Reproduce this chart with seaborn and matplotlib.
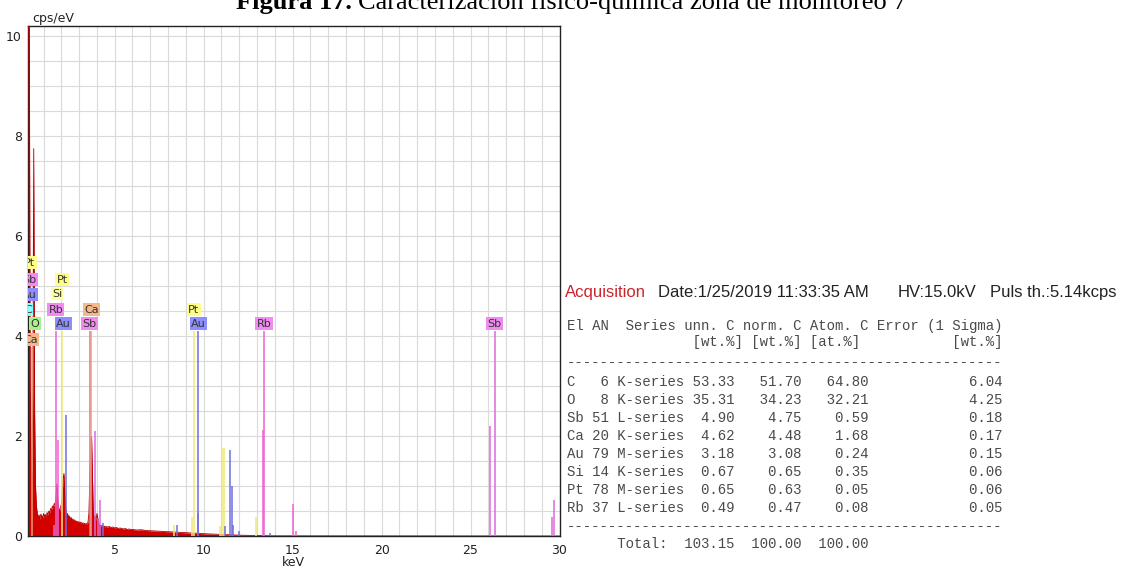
import numpy as np
import pandas as pd
import matplotlib
matplotlib.use("Agg")
import matplotlib.pyplot as plt
import seaborn as sns

# ---------------- data ----------------
# EDS spectrum (cps/eV)
energy_fine = np.round(np.arange(0.10, 4.5001, 0.05), 2)
counts_fine = [4.00, 10.50, 10.50, 3.00, 1.50, 1.20, 3.00, 7.74, 2.50, 1.00,
               0.60, 0.45,
               0.38, 0.42, 0.33, 0.44, 0.40, 0.36, 0.45, 0.39, 0.43, 0.37,
               0.47, 0.42, 0.50, 0.46, 0.55, 0.52, 0.60, 0.56, 0.65, 0.62,
               0.80, 1.05, 0.75, 0.55, 0.50, 0.58, 0.62, 0.85, 1.15, 1.25,
               0.80, 0.55, 0.42, 0.45, 0.38, 0.40, 0.35, 0.37, 0.33, 0.34,
               0.31, 0.32, 0.29, 0.30, 0.28, 0.29, 0.27, 0.28, 0.26, 0.27,
               0.25, 0.26, 0.25, 0.24, 0.25, 0.24, 0.28, 0.45, 1.10, 1.85,
               1.99, 1.20, 0.45, 0.35, 0.40, 0.30, 0.45, 0.35, 0.25, 0.22,
               0.21, 0.20, 0.21, 0.19, 0.20, 0.18, 0.19]
energy_mid = np.round(np.arange(4.6, 6.0001, 0.1), 2)
counts_mid = [0.18, 0.19, 0.17, 0.18, 0.16, 0.17, 0.15, 0.16, 0.15, 0.14,
              0.15, 0.13, 0.14, 0.13, 0.13]
energy_tail = np.round(np.arange(6.25, 14.0001, 0.25), 2)
counts_tail = [0.12, 0.125, 0.11, 0.105, 0.10, 0.095, 0.09, 0.085, 0.08, 0.075,
               0.07, 0.065, 0.06, 0.055, 0.05, 0.045, 0.042, 0.038, 0.032, 0.03,
               0.025, 0.022, 0.02, 0.016, 0.014, 0.012, 0.01, 0.008, 0.006, 0.005,
               0.004, 0.003]
energy_end = [30.0]
counts_end = [0.0]

# element marker lines (element, keV, height in cps/eV)
line_el = ["Ca", "Rb", "Pt", "Sb", "Ca", "Pt", "Au", "Rb", "Sb",
           "Rb", "Rb", "Au", "Sb", "Sb", "Sb", "Au",
           "Pt", "Au", "Pt", "Au", "Pt", "Pt", "Pt", "Au", "Au", "Au", "Au", "Au",
           "Pt", "Rb", "Au", "Rb", "Rb", "Sb", "Sb", "Sb"]
line_kev = [0.34, 1.69, 2.05, 3.60, 3.69, 9.44, 9.71, 13.39, 26.36,
            1.57, 1.80, 2.24, 3.88, 4.09, 4.15, 4.37,
            8.34, 8.51, 9.35, 9.69, 10.90, 11.05, 11.14, 11.20, 11.46, 11.60, 11.65, 11.96,
            12.97, 13.36, 13.75, 15.00, 15.19, 26.10, 29.60, 29.70]
line_top = [3.78, 4.10, 4.10, 4.10, 4.10, 4.10, 4.10, 4.10, 4.10,
            0.22, 1.92, 2.42, 2.09, 0.35, 0.72, 0.25,
            0.22, 0.22, 0.38, 0.46, 0.19, 1.75, 1.75, 0.20, 1.72, 1.00, 0.22, 0.10,
            0.37, 2.12, 0.06, 0.64, 0.10, 2.19, 0.38, 0.72]

# element labels (element, keV, height)
label_el = ["Pt", "Sb", "Au", "C", "O", "Ca",
            "Pt", "Si", "Rb", "Au", "Ca", "Sb", "Pt", "Au", "Rb", "Sb"]
label_kev = [0.22, 0.20, 0.19, 0.13, 0.52, 0.28,
             2.05, 1.76, 1.69, 2.12, 3.69, 3.60, 9.44, 9.71, 13.39, 26.36]
label_y = [5.46, 5.12, 4.82, 4.52, 4.24, 3.92,
           5.12, 4.84, 4.52, 4.24, 4.52, 4.24, 4.52, 4.24, 4.24, 4.24]

# quantification table
tab_el = ["C", "O", "Sb", "Ca", "Au", "Si", "Pt", "Rb"]
tab_an = [6, 8, 51, 20, 79, 14, 78, 37]
tab_series = ["K-series", "K-series", "L-series", "K-series", "M-series",
              "K-series", "M-series", "L-series"]
tab_unn = [53.33, 35.31, 4.90, 4.62, 3.18, 0.67, 0.65, 0.49]
tab_norm = [51.70, 34.23, 4.75, 4.48, 3.08, 0.65, 0.63, 0.47]
tab_atom = [64.80, 32.21, 0.59, 1.68, 0.24, 0.35, 0.05, 0.08]
tab_err = [6.04, 4.25, 0.18, 0.17, 0.15, 0.06, 0.06, 0.05]
tab_total = [103.15, 100.00, 100.00]

# ---------------- style ----------------
label_fill = {"Pt": "#ffff88", "Si": "#ffffa6", "Au": "#8d8dff", "Sb": "#f08cf0",
              "Rb": "#f08cf0", "Ca": "#f5b88a", "C": "#88ffff", "O": "#a8f08c"}
line_col = {"Pt": "#f0e878", "Si": "#eee070", "Au": "#6f6fe0", "Sb": "#dd6add",
            "Rb": "#f062d2", "Ca": "#eba07a", "C": "#60e0e0", "O": "#90d870"}

sns.set_theme(style="white")
plt.rcParams["font.family"] = ["DejaVu Sans"]

W, H = 1138, 567
fig = plt.figure(figsize=(W / 100, H / 100), dpi=100)
fig.patch.set_facecolor("white")

ax_l, ax_r, ax_t, ax_b = 27.5, 559.5, 25.5, 536
ax = fig.add_axes([ax_l / W, 1 - ax_b / H, (ax_r - ax_l) / W, (ax_b - ax_t) / H])

spec = pd.DataFrame({
    "keV": np.concatenate([energy_fine, energy_mid, energy_tail, energy_end]),
    "cps": np.concatenate([counts_fine, counts_mid, counts_tail, counts_end]),
})

ax.fill_between(spec["keV"], 0, spec["cps"], color="#d40000", lw=0, zorder=2)
sns.lineplot(data=spec, x="keV", y="cps", ax=ax, color="#b00000", linewidth=0.6,
             zorder=3, sort=True, estimator=None)

for el, kev, top in zip(line_el, line_kev, line_top):
    ax.vlines(kev, 0, top, color=line_col[el], lw=1.1, zorder=4)

for el, kev, yv in zip(label_el, label_kev, label_y):
    ax.text(kev, yv, el, ha="center", va="center", fontsize=8, color="#333333",
            bbox=dict(boxstyle="square,pad=0.12", fc=label_fill[el], ec="none"),
            clip_on=True, zorder=6)

ax.set_xlim(0.1, 30)
ax.set_ylim(0, 10.2)
ax.set_xticks([5, 10, 15, 20, 25, 30])
ax.set_xticks(np.arange(1, 30), minor=True)
ax.set_yticks([0, 2, 4, 6, 8, 10])
ax.set_yticks([1, 3, 5, 7, 9], minor=True)
ax.grid(False)
for xv in range(1, 30):
    ax.axvline(xv, color="#dadada", lw=0.8, zorder=0)
for yv in np.arange(0.5, 10.2, 0.5):
    ax.axhline(yv, color="#dadada", lw=0.8, zorder=0)
ax.set_xlabel("")
ax.set_ylabel("")
ax.tick_params(axis="both", which="major", direction="out", length=3.5, width=0.8,
               color="#333333", labelsize=9, labelcolor="#222222", pad=0.5)
ax.tick_params(axis="both", which="minor", direction="out", length=2.2, width=0.7,
               color="#333333")
ax.tick_params(axis="x", which="major", pad=2)
for sp in ax.spines.values():
    sp.set_color("#222222")
    sp.set_linewidth(1.0)
    sp.set_visible(True)

fig.text(32 / W, 1 - 22 / H, "cps/eV", fontsize=9, color="#222222", va="baseline")
fig.text((ax_l + ax_r) / 2 / W, 1 - 556 / H, "keV", fontsize=9, color="#222222",
         ha="center", va="top")

# ---------------- title (cut at top, as in the source) ----------------
t1 = fig.text(236 / W, 1 - 9.5 / H, "Figura 17.", fontsize=19, fontweight="bold",
              family=["Liberation Serif"], va="baseline", color="black")
fig.canvas.draw()
bb = t1.get_window_extent(renderer=fig.canvas.get_renderer())
fig.text(bb.x1 / W + 6 / W, 1 - 9.5 / H,
         "Caracterización físico-química zona de monitoreo 7",
         fontsize=19, family=["Liberation Serif"], va="baseline", color="black")

# ---------------- acquisition header ----------------
hdr_y = 1 - 297 / H
fig.text(565 / W, hdr_y, "Acquisition", fontsize=12, color="#c8262c",
         family=["Liberation Sans"], va="baseline")
fig.text(658 / W, hdr_y, "Date:1/25/2019 11:33:35 AM", fontsize=12, color="#222222",
         family=["Liberation Sans"], va="baseline")
fig.text(898 / W, hdr_y, "HV:15.0kV", fontsize=12, color="#222222",
         family=["Liberation Sans"], va="baseline")
fig.text(990 / W, hdr_y, "Puls th.:5.14kcps", fontsize=12, color="#222222",
         family=["Liberation Sans"], va="baseline")

# ---------------- table ----------------
lines = []
lines.append(("El AN  Series unn. C norm. C Atom. C Error (1 Sigma)", 330))
lines.append((" " * 15 + "[wt.%] [wt.%] [at.%]" + " " * 11 + "[wt.%]", 346))
lines.append(("-" * 52, 366))
for i in range(len(tab_el)):
    s = (f"{tab_el[i]:<2} {tab_an[i]:>2} {tab_series[i]:<8}"
         f"{tab_unn[i]:6.2f}{tab_norm[i]:8.2f}{tab_atom[i]:8.2f}{tab_err[i]:16.2f}")
    lines.append((s, 386 + 18 * i))
lines.append(("-" * 52, 530))
lines.append((f"{'Total:':>12}{tab_total[0]:8.2f}{tab_total[1]:8.2f}{tab_total[2]:8.2f}", 548))
for s, yb in lines:
    fig.text(567 / W, 1 - yb / H, s, fontsize=10.1, color="#4a4a4a",
             family=["Liberation Mono"], va="baseline")

fig.savefig("out.png", dpi=100, facecolor="white")
